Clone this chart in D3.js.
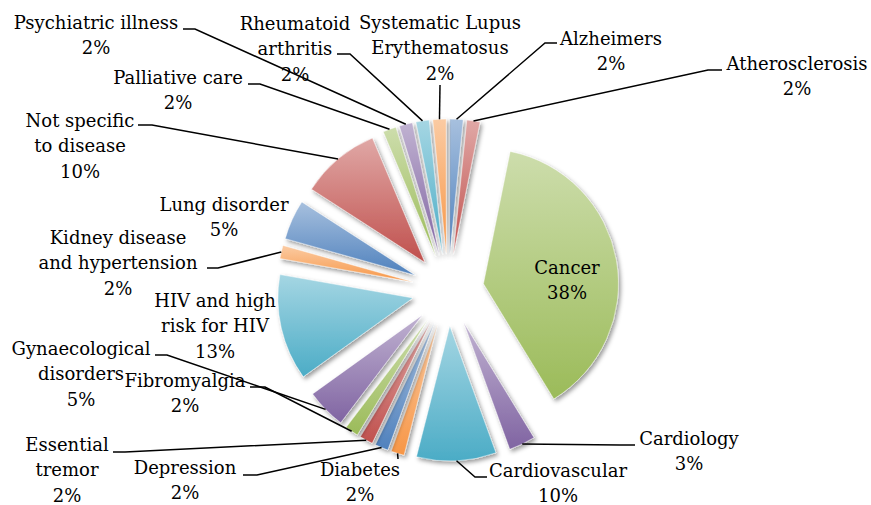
<!DOCTYPE html>
<html>
<head>
<meta charset="utf-8">
<script src="https://cdn.jsdelivr.net/npm/d3@7"></script>
<style>
  body { margin: 0; background: #fff; }
  text { font-family: "DejaVu Serif", serif; font-size: 18px; fill: #000; }
</style>
</head>
<body>
<svg id="chart"></svg>
<script>
// study counts per disease area (percent labels come from these)
const categories = [
  "Alzheimers", "Atherosclerosis", "Cancer", "Cardiology", "Cardiovascular",
  "Diabetes", "Depression", "Essential\ntremor", "Fibromyalgia",
  "Gynaecological\ndisorders", "HIV and high\nrisk for HIV",
  "Kidney disease\nand hypertension", "Lung disorder", "Not specific\nto disease",
  "Palliative care", "Psychiatric illness", "Rheumatoid\narthritis",
  "Systematic Lupus\nErythematosus"
];
const counts = [1, 1, 24, 2, 6, 1, 1, 1, 1, 3, 8, 1, 3, 6, 1, 1, 1, 1];
const palette = ["#4F81BD", "#C0504D", "#9BBB59", "#8064A2", "#4BACC6", "#F79646"];

// label placement: text centre x, first line y, leader anchor + elbow (null = no leader)
const labelLayout = [
  { x: 611, y: 38,  anchor: [557, 43],  elbow: [545, 43] },
  { x: 797, y: 63,  anchor: [722, 70],  elbow: [708, 70] },
  { x: 567, y: 267, anchor: null },
  { x: 689, y: 438, anchor: [635, 445], elbow: [620, 445] },
  { x: 558, y: 470, anchor: [487, 477], elbow: [475, 477] },
  { x: 360, y: 469, anchor: [398, 459], elbow: [398, 459] },
  { x: 185, y: 467, anchor: [243, 475], elbow: [257, 475] },
  { x: 67,  y: 444, anchor: [113, 452], elbow: [125, 452] },
  { x: 185, y: 380, anchor: [250, 387], elbow: [265, 387] },
  { x: 81,  y: 348, anchor: [155, 355], elbow: [167, 355] },
  { x: 215, y: 300, anchor: null },
  { x: 118, y: 237, anchor: [207, 268], elbow: [218, 268] },
  { x: 224, y: 204, anchor: null },
  { x: 80,  y: 120, anchor: [138, 125], elbow: [152, 125] },
  { x: 178, y: 77,  anchor: [248, 84],  elbow: [260, 84] },
  { x: 96,  y: 22,  anchor: [183, 29],  elbow: [195, 29] },
  { x: 295, y: 23,  anchor: [337, 54],  elbow: [350, 54] },
  { x: 440, y: 22,  anchor: [440, 85],  elbow: [440, 85] }
];

const width = 871, height = 505;
const cx = 448, cy = 290, radius = 135, explode = 36;
const lineGap = 25.3;

const data = categories.map((c, i) => ({ name: c, value: counts[i], i }));
const total = d3.sum(counts);

const svg = d3.select("#chart").attr("width", width).attr("height", height);
const defs = svg.append("defs");

const shadow = defs.append("filter").attr("id", "shadow")
  .attr("x", "-20%").attr("y", "-20%").attr("width", "150%").attr("height", "150%");
shadow.append("feDropShadow")
  .attr("dx", 2).attr("dy", 2.5).attr("stdDeviation", 2)
  .attr("flood-color", "#000").attr("flood-opacity", 0.4);

data.forEach(d => {
  const base = palette[d.i % palette.length];
  const g = defs.append("linearGradient").attr("id", "grad" + d.i)
    .attr("x1", 0).attr("y1", 0).attr("x2", 0).attr("y2", 1);
  g.append("stop").attr("offset", "0%").attr("stop-color", d3.interpolateRgb(base, "#fff")(0.5));
  g.append("stop").attr("offset", "100%").attr("stop-color", base);
});

const pie = d3.pie().sort(null).value(d => d.value).startAngle(0).endAngle(2 * Math.PI);
const arcs = pie(data);

const arc = d3.arc().innerRadius(0).outerRadius(radius);
const mid = a => (a.startAngle + a.endAngle) / 2;
const dir = a => [Math.sin(mid(a)), -Math.cos(mid(a))];

const slices = svg.append("g").attr("class", "slices")
  .selectAll("g")
  .data(arcs)
  .join("g")
  .attr("transform", a => {
    const [ux, uy] = dir(a);
    return `translate(${cx + ux * explode},${cy + uy * explode})`;
  });

slices.append("path")
  .attr("d", arc)
  .attr("fill", a => `url(#grad${a.data.i})`)
  .attr("stroke", "rgba(255,255,255,0.45)")
  .attr("stroke-width", 1)
  .attr("filter", "url(#shadow)");

// leader lines
const leaders = svg.append("g").attr("class", "leaders")
  .selectAll("path")
  .data(arcs.filter(a => labelLayout[a.data.i].anchor))
  .join("path")
  .attr("fill", "none")
  .attr("stroke", "#000")
  .attr("stroke-width", 1.5)
  .attr("d", a => {
    const L = labelLayout[a.data.i];
    const [ux, uy] = dir(a);
    const p = [cx + ux * (explode + radius), cy + uy * (explode + radius)];
    return d3.line()([p, L.elbow, L.anchor]);
  });

// labels
const labels = svg.append("g").attr("class", "labels")
  .selectAll("text")
  .data(arcs)
  .join("text")
  .attr("text-anchor", "middle")
  .attr("dominant-baseline", "central");

labels.each(function (a) {
  const L = labelLayout[a.data.i];
  const lines = a.data.name.split("\n").concat([Math.round(a.data.value / total * 100) + "%"]);
  d3.select(this).selectAll("tspan")
    .data(lines)
    .join("tspan")
    .attr("x", L.x)
    .attr("y", (t, k) => L.y + k * lineGap)
    .text(t => t);
});
</script>
</body>
</html>
